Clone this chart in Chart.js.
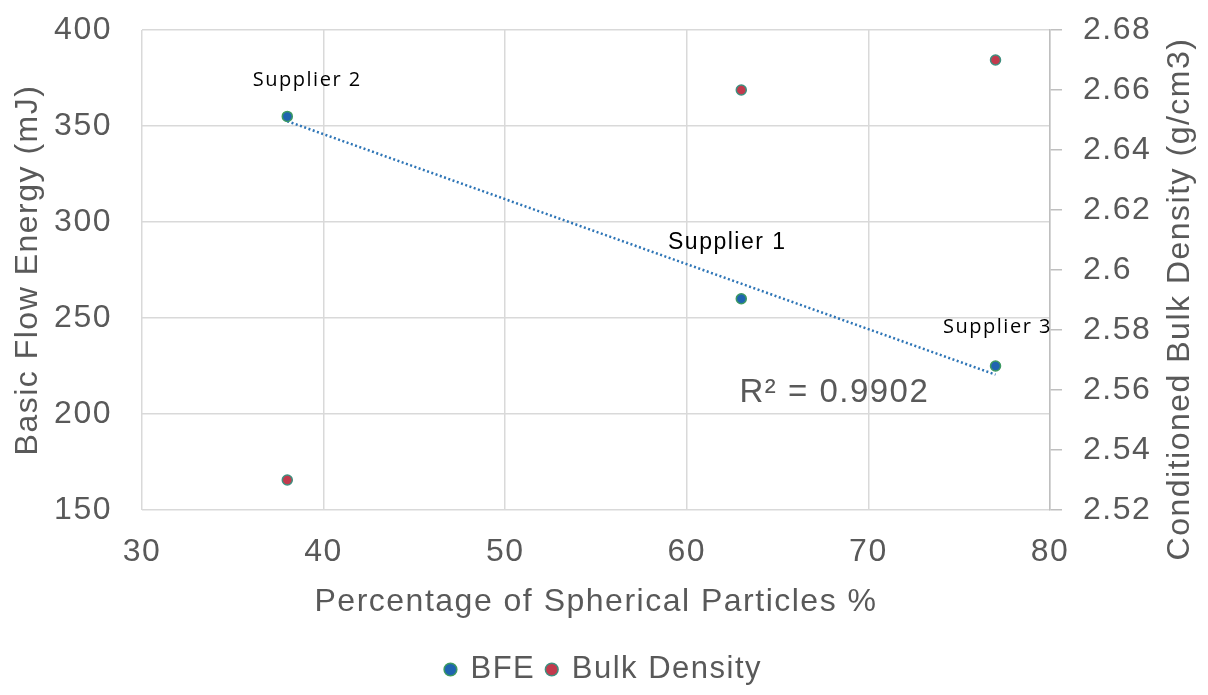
<!DOCTYPE html>
<html>
<head>
<meta charset="utf-8">
<script src="https://cdn.jsdelivr.net/npm/chart.js@4.4.1/dist/chart.umd.min.js"></script>
<style>
  html, body { margin: 0; padding: 0; background: #fff; }
  #wrap { width: 1208px; height: 695px; position: relative; }
</style>
</head>
<body>
<div id="wrap"><canvas id="chart"></canvas></div>
<script>
// Data
const sphericalPct = [38, 63, 77];
const bfeValues = [355, 260, 225];
const bulkDensity = [2.53, 2.66, 2.67];
const supplierLabels = ['Supplier 2', 'Supplier 1', 'Supplier 3'];
const trendX = [38, 77];
const trendY = [352.5, 220.5];
const rSquaredText = 'R\u00B2 = 0.9902';

const xTicks = [30, 40, 50, 60, 70, 80];
const leftTicks = [150, 200, 250, 300, 350, 400];
const rightTicks = [2.52, 2.54, 2.56, 2.58, 2.6, 2.62, 2.64, 2.66, 2.68];

const textColor = '#595959';
const gridColor = '#d9d9d9';
const sansFont = "'Liberation Sans', Arial, sans-serif";
const spacing = '1.5px';

// label offsets (px) relative to each BFE point
const labelOffsets = [
  { dx: 20, dy: -36, font: "20px 'Open Sans', sans-serif" },
  { dx: -14, dy: -56, font: "23px " + sansFont },
  { dx: 2, dy: -39, font: "20px 'Open Sans', sans-serif" }
];

// the reference text is slightly wide, so spread the letters a bit
const letterSpread = {
  id: 'letterSpread',
  beforeLayout(chart) { chart.ctx.letterSpacing = spacing; },
  beforeDraw(chart) { chart.ctx.letterSpacing = spacing; }
};

const annotations = {
  id: 'annotations',
  afterDatasetsDraw(chart) {
    const ctx = chart.ctx;
    const meta = chart.getDatasetMeta(0);
    ctx.save();
    ctx.letterSpacing = spacing;
    ctx.fillStyle = '#000';
    ctx.textAlign = 'center';
    ctx.textBaseline = 'middle';
    meta.data.forEach((pt, i) => {
      const o = labelOffsets[i];
      ctx.font = o.font;
      ctx.fillText(supplierLabels[i], pt.x + o.dx, pt.y + o.dy);
    });

    // R squared
    const xs = chart.scales.x, ys = chart.scales.y;
    ctx.font = '33px ' + sansFont;
    ctx.fillStyle = textColor;
    ctx.textAlign = 'left';
    ctx.fillText(rSquaredText, xs.getPixelForValue(62.9), ys.getPixelForValue(211));

    // right axis title, reading bottom to top
    ctx.translate(1180, 299);
    ctx.rotate(-Math.PI / 2);
    ctx.textAlign = 'center';
    ctx.font = '32px ' + sansFont;
    ctx.fillText('Conditioned Bulk Density (g/cm3)', 0, 0);
    ctx.restore();
  }
};

function fixVertical(width) {
  return axis => {
    axis.width = width;
    axis.paddingTop = 0;
    axis.paddingBottom = 0;
  };
}

new Chart(document.getElementById('chart'), {
  type: 'scatter',
  data: {
    datasets: [
      {
        label: 'BFE',
        data: sphericalPct.map((x, i) => ({ x, y: bfeValues[i] })),
        yAxisID: 'y',
        backgroundColor: '#1f64b0',
        borderColor: '#3d9a62',
        borderWidth: 1.5,
        pointRadius: 5,
        order: 1
      },
      {
        label: 'Bulk Density',
        data: sphericalPct.map((x, i) => ({ x, y: bulkDensity[i] })),
        yAxisID: 'y2',
        backgroundColor: '#c23a4d',
        borderColor: '#3f8f7f',
        borderWidth: 1.5,
        pointRadius: 5,
        order: 2
      },
      {
        label: 'trend',
        type: 'line',
        data: trendX.map((x, i) => ({ x, y: trendY[i] })),
        yAxisID: 'y',
        borderColor: '#2e75b6',
        borderWidth: 2.5,
        borderDash: [2, 2.5],
        pointRadius: 0,
        fill: false,
        order: 3
      }
    ]
  },
  options: {
    responsive: true,
    maintainAspectRatio: false,
    animation: false,
    layout: { padding: { top: 30, right: 0, bottom: 0, left: 0 } },
    plugins: {
      tooltip: { enabled: false },
      legend: {
        position: 'bottom',
        labels: {
          filter: item => item.text !== 'trend',
          usePointStyle: true,
          pointStyle: 'circle',
          boxWidth: 9,
          boxHeight: 9,
          padding: 12,
          color: textColor,
          font: { family: sansFont, size: 31 }
        }
      }
    },
    scales: {
      x: {
        type: 'linear',
        min: 30,
        max: 80,
        afterBuildTicks: axis => { axis.ticks = xTicks.map(v => ({ value: v })); },
        afterFit: axis => { axis.height = 132; axis.paddingLeft = 0; axis.paddingRight = 0; },
        grid: { color: gridColor, lineWidth: 1.5, drawTicks: false },
        border: { display: false },
        ticks: { color: textColor, padding: 23, font: { family: sansFont, size: 32 } },
        title: {
          display: true,
          text: 'Percentage of Spherical Particles %',
          color: textColor,
          padding: { top: 0, bottom: 21 },
          font: { family: sansFont, size: 32 }
        }
      },
      y: {
        position: 'left',
        min: 150,
        max: 400,
        afterBuildTicks: axis => { axis.ticks = leftTicks.map(v => ({ value: v })); },
        afterFit: fixVertical(142),
        grid: { color: gridColor, lineWidth: 1.5, drawTicks: false },
        border: { display: false },
        ticks: { color: textColor, padding: 30, font: { family: sansFont, size: 32 } },
        title: {
          display: true,
          text: 'Basic Flow Energy (mJ)',
          color: textColor,
          padding: { top: 9, bottom: 0 },
          font: { family: sansFont, size: 32 }
        }
      },
      y2: {
        position: 'right',
        min: 2.52,
        max: 2.68,
        afterBuildTicks: axis => { axis.ticks = rightTicks.map(v => ({ value: v })); },
        afterFit: fixVertical(158),
        grid: { drawOnChartArea: false, color: '#bfbfbf', lineWidth: 1.5, tickLength: 12 },
        border: { display: true, color: '#bfbfbf', width: 1.5 },
        ticks: {
          color: textColor,
          padding: 21,
          font: { family: sansFont, size: 32 },
          callback: v => String(parseFloat(v.toFixed(2)))
        }
      }
    }
  },
  plugins: [letterSpread, annotations]
});
</script>
</body>
</html>
